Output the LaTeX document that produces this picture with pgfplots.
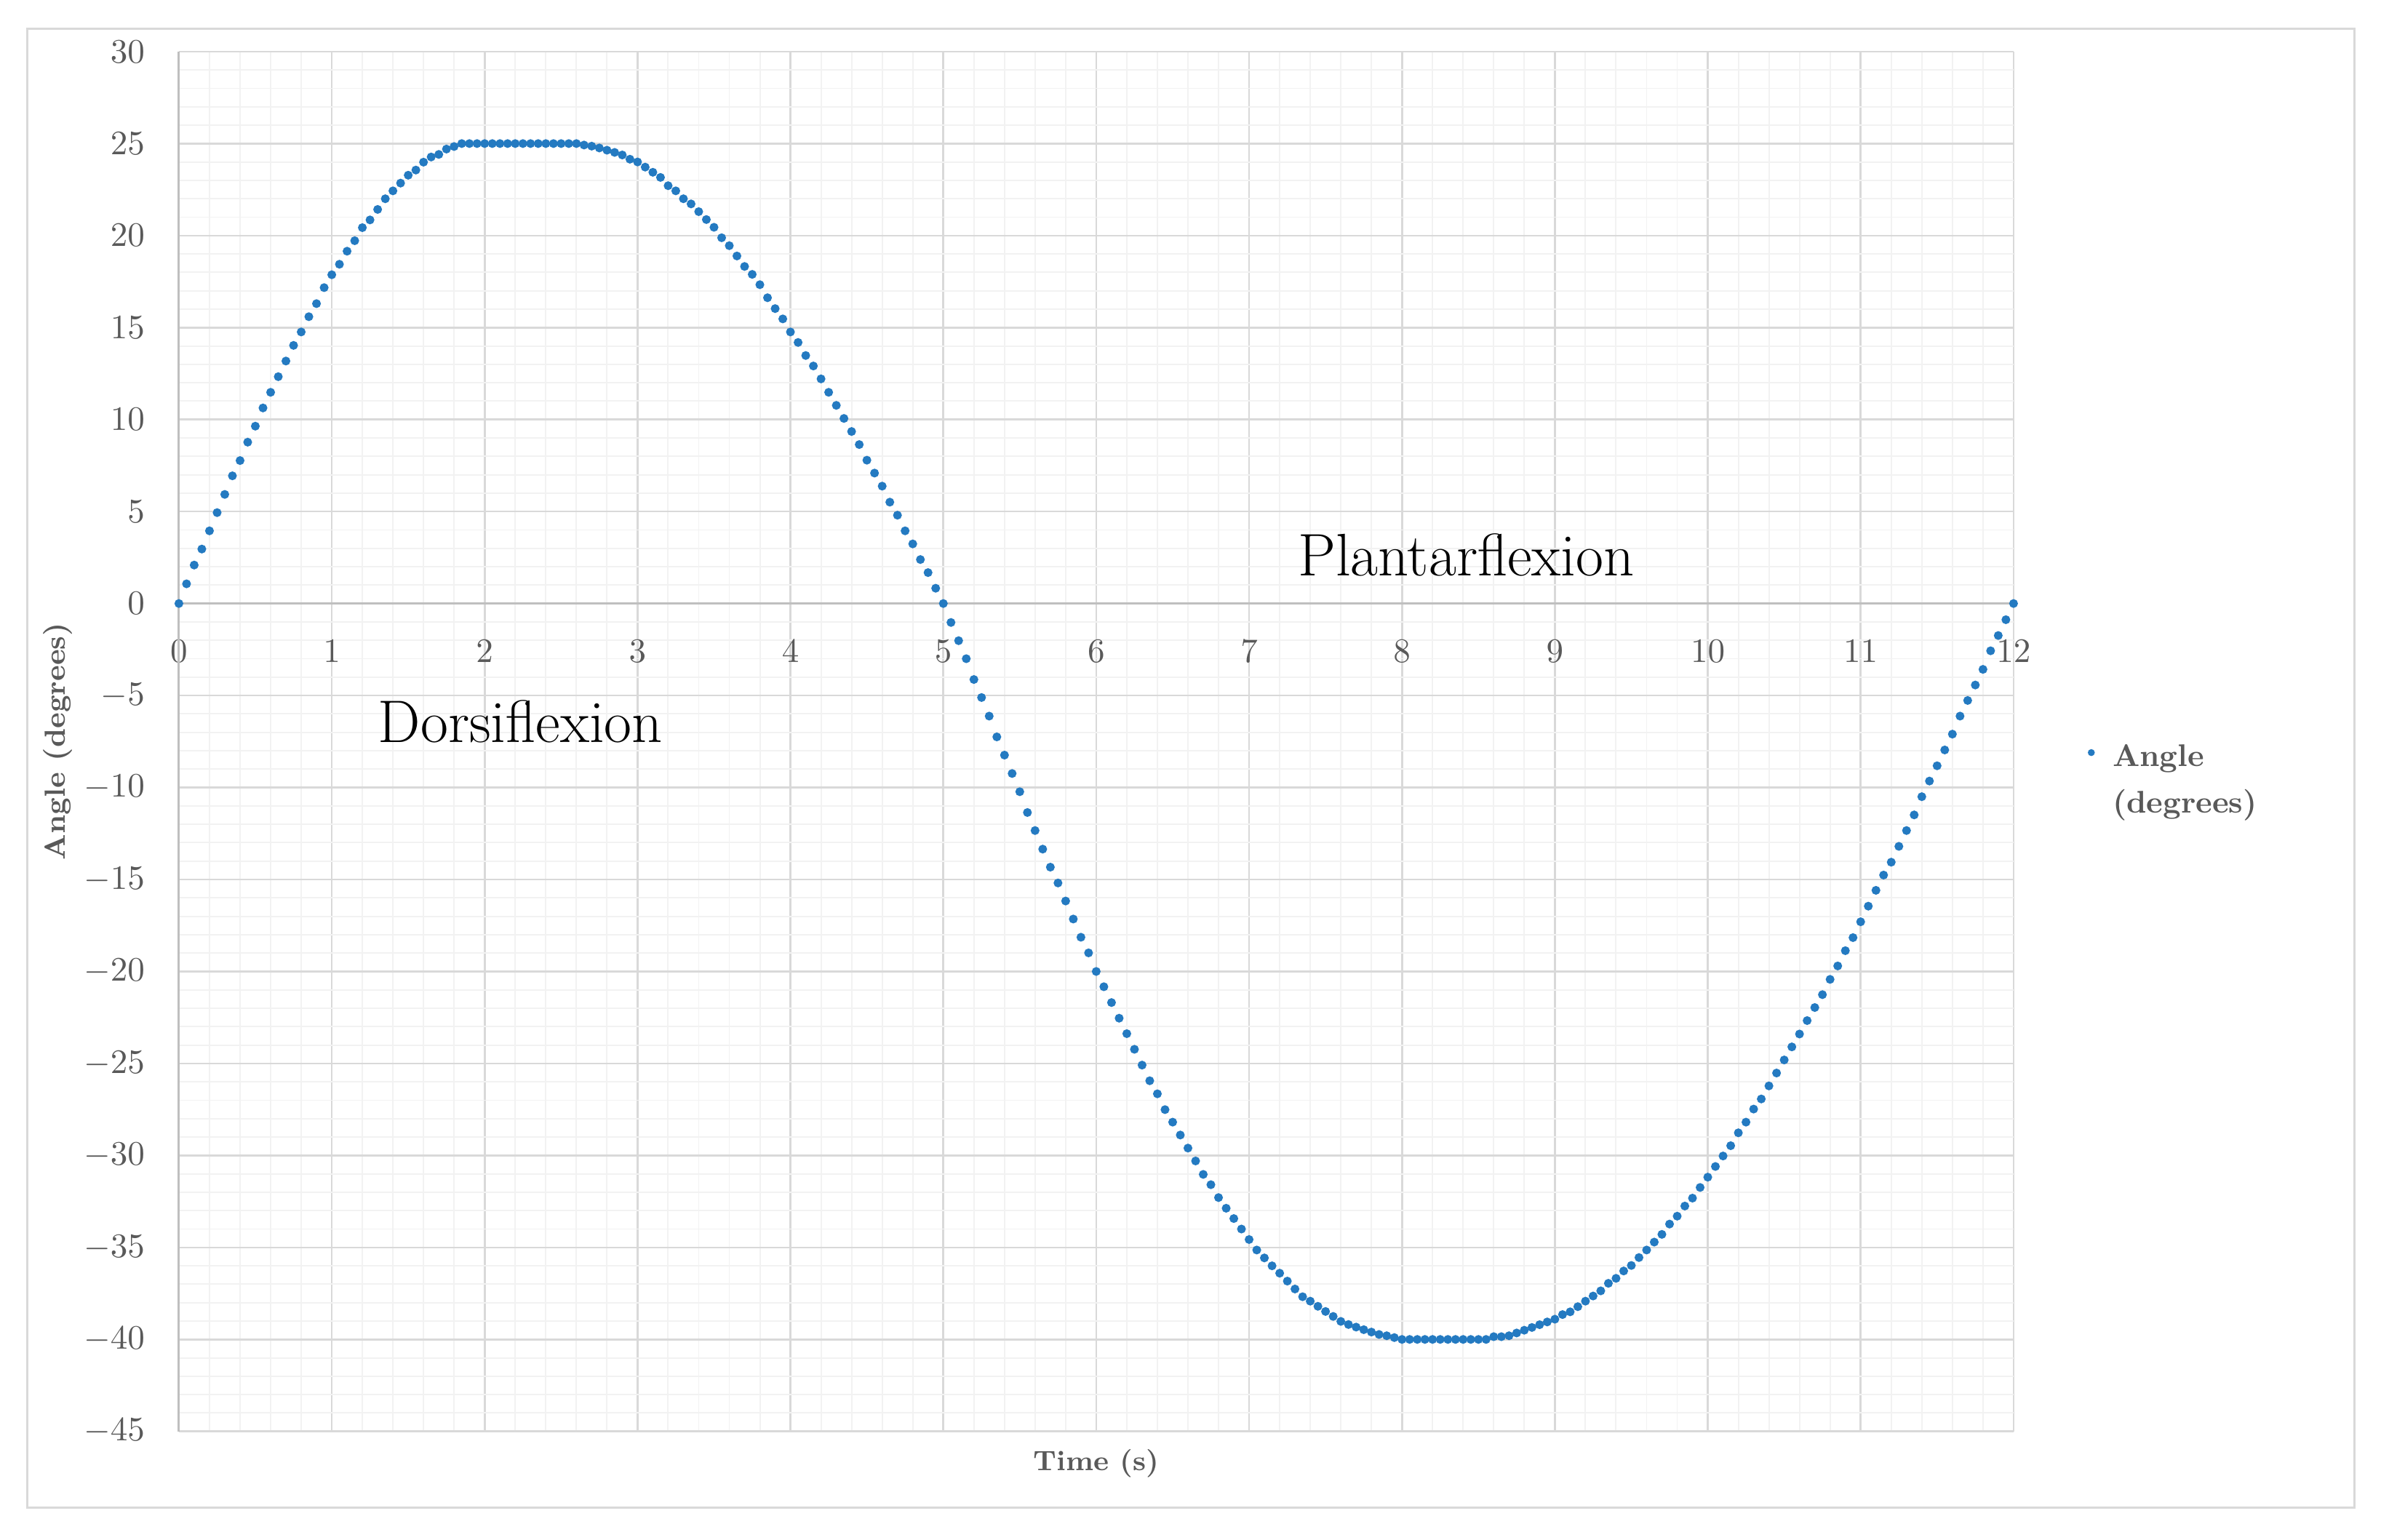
\documentclass[border=0pt]{standalone}
\usepackage{pgfplots}
\pgfplotsset{compat=1.18}
\definecolor{cMark}{RGB}{36,122,193}
\definecolor{cGridMaj}{HTML}{D9D9D9}
\definecolor{cGridMin}{HTML}{F2F2F2}
\definecolor{cAxis}{HTML}{BFBFBF}
\definecolor{cText}{HTML}{595959}
\begin{document}
\begin{tikzpicture}
\begin{axis}[
  scale only axis,
  width=586.6pt, height=441.2pt,
  xmin=0, xmax=12, ymin=-45, ymax=30,
  xtick={0,1,...,12},
  ytick={-45,-40,...,30},
  minor x tick num=4,
  minor y tick num=4,
  grid=both,
  major grid style={color=cGridMaj, line width=0.6pt},
  minor grid style={color=cGridMin, line width=0.45pt},
  axis line style={draw=none},
  major tick length=0pt, minor tick length=0pt,
  tick label style={font=\fontsize{10.5}{12}\selectfont, text=cText},
  xticklabel style={yshift=256.6pt},
  yticklabel style={xshift=-7.4pt},
  every axis x label/.style={at={(axis description cs:0.5,0)}, anchor=base, yshift=-12.6pt, font=\fontsize{9}{11}\selectfont\bfseries, text=cText},
  every axis y label/.style={at={(axis description cs:-0.0658,0.5)}, rotate=90, anchor=center, font=\fontsize{9.3}{11}\selectfont\bfseries, text=cText},
  xlabel={Time (s)},
  ylabel={Angle (degrees)},
  clip=false,
  legend style={draw=none, fill=none, at={(axis description cs:1.0354,0.515)}, anchor=north west,
    font=\fontsize{10}{14.9}\selectfont\bfseries, text=cText, column sep=3.9pt},
  legend image post style={mark size=0.9pt},
]
\coordinate (SW) at (rel axis cs:0,0);
\coordinate (NE) at (rel axis cs:1,1);
\draw[cAxis, line width=0.7pt] (axis cs:0,0) -- (axis cs:12,0);
\draw[cAxis, line width=0.7pt] (axis cs:0,-45) -- (axis cs:0,30);
\addplot[only marks, mark=*, mark size=1.2pt, color=cMark, mark options={fill=cMark, draw=cMark}] table {
t a
0.00 0
0.05 1.07
0.10 2.09
0.15 2.96
0.20 3.95
0.25 4.94
0.30 5.93
0.35 6.94
0.40 7.77
0.45 8.77
0.50 9.64
0.55 10.63
0.60 11.48
0.65 12.33
0.70 13.18
0.75 14.03
0.80 14.76
0.85 15.59
0.90 16.30
0.95 17.17
1.00 17.87
1.05 18.44
1.10 19.15
1.15 19.72
1.20 20.43
1.25 20.85
1.30 21.42
1.35 22.00
1.40 22.43
1.45 22.85
1.50 23.28
1.55 23.56
1.60 23.99
1.65 24.27
1.70 24.41
1.75 24.70
1.80 24.84
1.85 25.00
1.90 25.00
1.95 25.00
2.00 25.00
2.05 25.00
2.10 25.00
2.15 25.00
2.20 25.00
2.25 25.00
2.30 25.00
2.35 25.00
2.40 25.00
2.45 25.00
2.50 25.00
2.55 25.00
2.60 25.00
2.65 24.92
2.70 24.86
2.75 24.76
2.80 24.64
2.85 24.52
2.90 24.38
2.95 24.15
3.00 24.00
3.05 23.72
3.10 23.44
3.15 23.16
3.20 22.71
3.25 22.43
3.30 22.00
3.35 21.72
3.40 21.30
3.45 20.87
3.50 20.45
3.55 19.88
3.60 19.45
3.65 18.89
3.70 18.32
3.75 17.89
3.80 17.33
3.85 16.62
3.90 16.03
3.95 15.47
4.00 14.76
4.05 14.19
4.10 13.48
4.15 12.91
4.20 12.21
4.25 11.48
4.30 10.77
4.35 10.06
4.40 9.35
4.45 8.64
4.50 7.79
4.55 7.09
4.60 6.38
4.65 5.51
4.70 4.80
4.75 3.95
4.80 3.24
4.85 2.39
4.90 1.68
4.95 0.83
5.00 0.00
5.05 -1.03
5.10 -2.02
5.15 -3.00
5.20 -4.13
5.25 -5.11
5.30 -6.12
5.35 -7.25
5.40 -8.24
5.45 -9.24
5.50 -10.23
5.55 -11.36
5.60 -12.34
5.65 -13.35
5.70 -14.33
5.75 -15.19
5.80 -16.17
5.85 -17.15
5.90 -18.14
5.95 -18.99
6.00 -20.00
6.05 -20.83
6.10 -21.69
6.15 -22.54
6.20 -23.38
6.25 -24.23
6.30 -25.09
6.35 -25.94
6.40 -26.65
6.45 -27.51
6.50 -28.19
6.55 -28.89
6.60 -29.60
6.65 -30.30
6.70 -31.03
6.75 -31.59
6.80 -32.29
6.85 -32.87
6.90 -33.43
6.95 -34.00
7.00 -34.57
7.05 -35.14
7.10 -35.57
7.15 -36.00
7.20 -36.40
7.25 -36.83
7.30 -37.26
7.35 -37.68
7.40 -37.92
7.45 -38.20
7.50 -38.48
7.55 -38.75
7.60 -39.02
7.65 -39.19
7.70 -39.33
7.75 -39.47
7.80 -39.60
7.85 -39.73
7.90 -39.80
7.95 -39.90
8.00 -40.00
8.05 -40.00
8.10 -40.00
8.15 -40.00
8.20 -40.00
8.25 -40.00
8.30 -40.00
8.35 -40.00
8.40 -40.00
8.45 -40.00
8.50 -40.00
8.55 -40.00
8.60 -39.85
8.65 -39.85
8.70 -39.80
8.75 -39.65
8.80 -39.50
8.85 -39.35
8.90 -39.20
8.95 -39.05
9.00 -38.90
9.05 -38.65
9.10 -38.50
9.15 -38.22
9.20 -37.92
9.25 -37.64
9.30 -37.36
9.35 -36.95
9.40 -36.68
9.45 -36.28
9.50 -35.98
9.55 -35.55
9.60 -35.14
9.65 -34.71
9.70 -34.29
9.75 -33.73
9.80 -33.30
9.85 -32.75
9.90 -32.32
9.95 -31.74
10.00 -31.18
10.05 -30.60
10.10 -30.03
10.15 -29.47
10.20 -28.77
10.25 -28.19
10.30 -27.48
10.35 -26.93
10.40 -26.22
10.45 -25.52
10.50 -24.81
10.55 -24.10
10.60 -23.40
10.65 -22.67
10.70 -21.96
10.75 -21.26
10.80 -20.43
10.85 -19.70
10.90 -18.87
10.95 -18.16
11.00 -17.30
11.05 -16.45
11.10 -15.59
11.15 -14.76
11.20 -14.06
11.25 -13.20
11.30 -12.34
11.35 -11.49
11.40 -10.50
11.45 -9.65
11.50 -8.82
11.55 -7.96
11.60 -7.10
11.65 -6.12
11.70 -5.27
11.75 -4.43
11.80 -3.58
11.85 -2.57
11.90 -1.74
11.95 -0.88
12.00 0.00
};
\addlegendentry{\begin{tabular}[t]{@{}l@{}}Angle\\(degrees)\end{tabular}}
\node[anchor=base, font=\fontsize{19.2}{22}\selectfont] at (axis cs:2.234,-7.56) {Dorsiflexion};
\node[anchor=base, font=\fontsize{19.2}{22}\selectfont] at (axis cs:8.42,1.49) {Plantarflexion};
\end{axis}
\draw[cGridMaj, line width=0.7pt] ([shift={(-48.4pt,-24.4pt)}]SW) rectangle ([shift={(109pt,7.4pt)}]NE);
\pgfresetboundingbox
\path ([shift={(-57.2pt,-34.7pt)}]SW) rectangle ([shift={(117.5pt,16.5pt)}]NE);
\end{tikzpicture}
\end{document}
